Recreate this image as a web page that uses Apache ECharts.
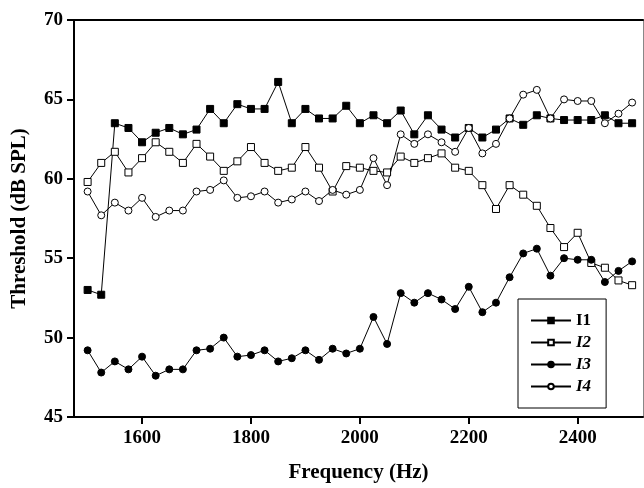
<!DOCTYPE html>
<html>
<head>
<meta charset="utf-8">
<script src="https://cdn.jsdelivr.net/npm/echarts@6/dist/echarts.min.js"></script>
<style>
  html, body { margin: 0; padding: 0; background: #fff; }
  #chart { width: 644px; height: 488px; }
</style>
</head>
<body>
<div id="chart"></div>
<script>
    // frequencies 1500..2500 Hz, 25 Hz steps
    var freqs = [1500, 1525, 1550, 1575, 1600, 1625, 1650, 1675, 1700, 1725, 1750, 1775, 1800, 1825,
        1850, 1875, 1900, 1925, 1950, 1975, 2000, 2025, 2050, 2075, 2100, 2125, 2150, 2175,
        2200, 2225, 2250, 2275, 2300, 2325, 2350, 2375, 2400, 2425, 2450, 2475, 2500];

    var i1 = [53.0, 52.7, 63.5, 63.2, 62.3, 62.9, 63.2, 62.8, 63.1, 64.4, 63.5, 64.7, 64.4, 64.4,
        66.1, 63.5, 64.4, 63.8, 63.8, 64.6, 63.5, 64.0, 63.5, 64.3, 62.8, 64.0, 63.1, 62.6,
        63.2, 62.6, 63.1, 63.8, 63.4, 64.0, 63.8, 63.7, 63.7, 63.7, 64.0, 63.5, 63.5];
    var i2 = [59.8, 61.0, 61.7, 60.4, 61.3, 62.3, 61.7, 61.0, 62.2, 61.4, 60.5, 61.1, 62.0, 61.0,
        60.5, 60.7, 62.0, 60.7, 59.2, 60.8, 60.7, 60.5, 60.4, 61.4, 61.0, 61.3, 61.6, 60.7,
        60.5, 59.6, 58.1, 59.6, 59.0, 58.3, 56.9, 55.7, 56.6, 54.7, 54.4, 53.6, 53.3];
    var i3 = [49.2, 47.8, 48.5, 48.0, 48.8, 47.6, 48.0, 48.0, 49.2, 49.3, 50.0, 48.8, 48.9, 49.2,
        48.5, 48.7, 49.2, 48.6, 49.3, 49.0, 49.3, 51.3, 49.6, 52.8, 52.2, 52.8, 52.4, 51.8,
        53.2, 51.6, 52.2, 53.8, 55.3, 55.6, 53.9, 55.0, 54.9, 54.9, 53.5, 54.2, 54.8];
    var i4 = [59.2, 57.7, 58.5, 58.0, 58.8, 57.6, 58.0, 58.0, 59.2, 59.3, 59.9, 58.8, 58.9, 59.2,
        58.5, 58.7, 59.2, 58.6, 59.3, 59.0, 59.3, 61.3, 59.6, 62.8, 62.2, 62.8, 62.3, 61.7,
        63.2, 61.6, 62.2, 63.8, 65.3, 65.6, 63.8, 65.0, 64.9, 64.9, 63.5, 64.1, 64.8];

    var xTicks = [1600, 1800, 2000, 2200, 2400];
    var seriesNames = ['I1', 'I2', 'I3', 'I4'];

    function pairs(vals) {
        var out = [];
        for (var k = 0; k < freqs.length; k++) {
            out.push([freqs[k], vals[k]]);
        }
        return out;
    }

    var serif = '"Liberation Serif", "Times New Roman", serif';

    var chart = echarts.init(document.getElementById('chart'));

    function makeSeries(name, vals, symbol, filled) {
        return {
            name: name,
            type: 'line',
            data: pairs(vals),
            symbol: symbol,
            symbolSize: 7,
            showAllSymbol: true,
            animation: false,
            lineStyle: { color: '#000', width: 1 },
            itemStyle: {
                color: filled ? '#000' : '#fff',
                borderColor: '#000',
                borderWidth: 1
            }
        };
    }

    var option = {
        backgroundColor: '#fff',
        animation: false,
        grid: { left: 74, right: 1, top: 20, bottom: 68 },
        legend: {
            orient: 'vertical',
            left: 518,
            top: 299,
            padding: [13, 15, 13, 12],
            itemWidth: 40,
            itemHeight: 7,
            itemGap: 5,
            borderColor: '#000',
            borderWidth: 1,
            textStyle: { fontFamily: serif, fontWeight: 'bold', fontSize: 17, lineHeight: 17, color: '#000' },
            data: [
                { name: 'I1', textStyle: { fontStyle: 'normal' } },
                { name: 'I2', textStyle: { fontStyle: 'italic' } },
                { name: 'I3', textStyle: { fontStyle: 'italic' } },
                { name: 'I4', textStyle: { fontStyle: 'italic' } }
            ]
        },
        xAxis: [{
            type: 'value',
            min: 1475,
            max: 2520,
            name: 'Frequency (Hz)',
            nameLocation: 'middle',
            nameGap: 45,
            nameTextStyle: { fontFamily: serif, fontWeight: 'bold', fontSize: 21, color: '#000' },
            axisLine: { lineStyle: { color: '#000', width: 2 } },
            axisTick: { customValues: xTicks, length: 7, lineStyle: { color: '#000', width: 2 } },
            axisLabel: {
                customValues: xTicks,
                margin: 12,
                formatter: function (v) { return String(v); },
                fontFamily: serif, fontWeight: 'bold', fontSize: 19, color: '#000'
            },
            splitLine: { show: false }
        }, {
            type: 'value',
            position: 'top',
            min: 1475,
            max: 2520,
            axisLine: { show: true, lineStyle: { color: '#000', width: 2 } },
            axisTick: { show: false },
            axisLabel: { show: false },
            splitLine: { show: false }
        }],
        yAxis: [{
            type: 'value',
            min: 45,
            max: 70,
            interval: 5,
            name: 'Threshold (dB SPL)',
            nameLocation: 'middle',
            nameGap: 44,
            nameTextStyle: { fontFamily: serif, fontWeight: 'bold', fontSize: 21, color: '#000' },
            axisLine: { show: true, lineStyle: { color: '#000', width: 2 } },
            axisTick: { show: true, length: 7, lineStyle: { color: '#000', width: 2 } },
            axisLabel: { margin: 11, fontFamily: serif, fontWeight: 'bold', fontSize: 19, color: '#000' },
            splitLine: { show: false }
        }, {
            type: 'value',
            position: 'right',
            min: 45,
            max: 70,
            interval: 5,
            axisLine: { show: true, lineStyle: { color: '#888', width: 1 } },
            axisTick: { show: false },
            axisLabel: { show: false },
            splitLine: { show: false }
        }],
        series: [
            makeSeries(seriesNames[0], i1, 'rect', true),
            makeSeries(seriesNames[1], i2, 'rect', false),
            makeSeries(seriesNames[2], i3, 'circle', true),
            makeSeries(seriesNames[3], i4, 'circle', false)
        ]
    };

    chart.setOption(option);
</script>
</body>
</html>
